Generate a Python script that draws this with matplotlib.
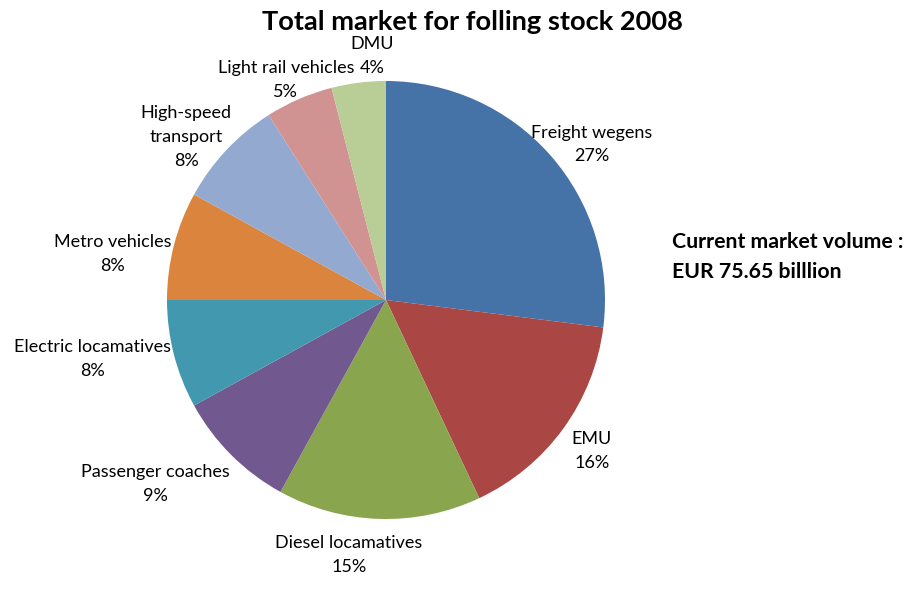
"""
Pie chart: total market for rolling stock 2008, by segment.
"""
import matplotlib.pyplot as plt

plt.rcParams["font.family"] = ["Lato", "DejaVu Sans"]

# segments, clockwise from 12 o'clock
segments = [
    "Freight wegens",
    "EMU",
    "Diesel locamatives",
    "Passenger coaches",
    "Electric locamatives",
    "Metro vehicles",
    "High-speed\ntransport",
    "Light rail vehicles",
    "DMU",
]
shares = [27, 16, 15, 9, 8, 8, 8, 5, 4]
colors = [
    "#4572A7",
    "#AA4643",
    "#89A54E",
    "#71588F",
    "#4198AF",
    "#DB843D",
    "#93A9CF",
    "#D19392",
    "#B9CD96",
]

# label anchor points (data units, pie radius = 1)
label_pos = [
    (0.94, 0.71),
    (0.94, -0.69),
    (-0.17, -1.165),
    (-1.055, -0.84),
    (-1.338, -0.27),
    (-1.247, 0.21),
    (-0.913, 0.745),
    (-0.457, 1.005),
    (-0.064, 1.114),
]

W, H = 918, 590
fig = plt.figure(figsize=(W / 100, H / 100), dpi=100)
cx, cy, r = 386, 300, 219
ax = fig.add_axes([(cx - r) / W, (H - cy - r) / H, 2 * r / W, 2 * r / H])

wedges, _ = ax.pie(
    shares,
    colors=colors,
    startangle=90,
    counterclock=False,
    radius=1,
    wedgeprops={"linewidth": 0},
)
ax.set_xlim(-1, 1)
ax.set_ylim(-1, 1)
ax.set_aspect("auto")

for name, val, (lx, ly) in zip(segments, shares, label_pos):
    ax.text(
        lx, ly, f"{name}\n{val}%",
        ha="center", va="center", fontsize=13, linespacing=1.6,
        clip_on=False,
    )

fig.text(472 / W, 1 - 22 / H, "Total market for folling stock 2008",
         ha="center", va="center", fontsize=19.6, fontweight="bold")
fig.text(672 / W, 1 - 242 / H, "Current market volume :",
         ha="left", va="center", fontsize=15.3, fontweight="bold")
fig.text(672 / W, 1 - 272 / H, "EUR 75.65 billlion",
         ha="left", va="center", fontsize=15.3, fontweight="bold")

fig.savefig("out.png", dpi=100)
